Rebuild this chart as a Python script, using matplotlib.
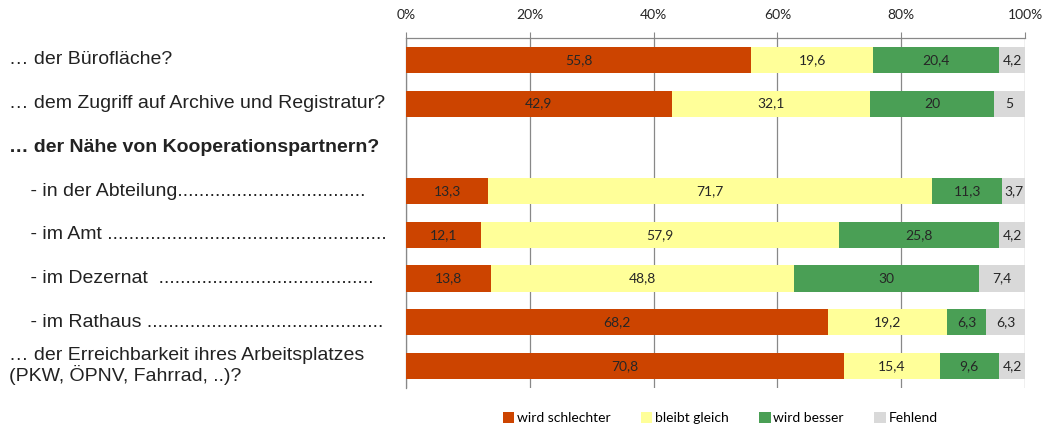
import numpy as np
import matplotlib.pyplot as plt
from matplotlib.patches import Patch
from matplotlib.transforms import blended_transform_factory

# rows of the chart, top to bottom (the header row has no bar)
row_labels = ["… der Bürofläche?",
              "… dem Zugriff auf Archive und Registratur?",
              "… der Nähe von Kooperationspartnern?",
              "    - in der Abteilung" + "." * 35,
              "    - im Amt " + "." * 52,
              "    - im Dezernat  " + "." * 40,
              "    - im Rathaus " + "." * 44,
              "… der Erreichbarkeit ihres Arbeitsplatzes\n(PKW, ÖPNV, Fahrrad, ..)?"]
header_row = 2

series = ["wird schlechter", "bleibt gleich", "wird besser", "Fehlend"]
schlechter = [55.8, 42.9, 13.3, 12.1, 13.8, 68.2, 70.8]
gleich = [19.6, 32.1, 71.7, 57.9, 48.8, 19.2, 15.4]
besser = [20.4, 20.0, 11.3, 25.8, 30.0, 6.3, 9.6]
fehlend = [4.2, 5.0, 3.7, 4.2, 7.4, 6.3, 4.2]

colors = ["#CC4400", "#FFFF99", "#4A9F55", "#D9D9D9"]
ticks = [0, 20, 40, 60, 80, 100]

fig = plt.figure(figsize=(10.47, 4.30), dpi=100)
ax = fig.add_axes([0.3878, 0.0977, 0.5912, 0.8139])

bar_rows = [i for i in range(len(row_labels)) if i != header_row]
y = np.array(bar_rows)
left = np.zeros(len(bar_rows))
for name, vals, col in zip(series, [schlechter, gleich, besser, fehlend], colors):
    vals = np.array(vals)
    ax.barh(y, vals, left=left, height=0.6, color=col, zorder=3)
    for yy, l, v in zip(y, left, vals):
        txt = f"{v:g}".replace(".", ",")
        ax.text(l + v / 2, yy, txt, ha="center", va="center", fontsize=10,
                family="Lato", color="#262626", zorder=4)
    left += vals

ax.set_xlim(0, 100)
ax.set_ylim(len(row_labels) - 0.5, -0.5)
ax.set_xticks(ticks)
ax.set_xticklabels([f"{t}%" for t in ticks], family="Lato", fontsize=10, color="#262626")
ax.xaxis.tick_top()
ax.tick_params(axis="x", length=4, color="#888888", pad=8)
ax.set_yticks([])
ax.grid(axis="x", color="#888888", linewidth=0.9, zorder=0)
for s in ["right", "bottom"]:
    ax.spines[s].set_visible(False)
for s in ["top", "left"]:
    ax.spines[s].set_color("#888888")
    ax.spines[s].set_linewidth(0.9)

trans = blended_transform_factory(fig.transFigure, ax.transData)
for i, lab in enumerate(row_labels):
    ax.text(0.009, i, lab, transform=trans, ha="left", va="center",
            family="Liberation Sans", fontsize=14, color="#222222",
            fontweight="bold" if i == header_row else "normal", linespacing=1.1)

handles = [Patch(facecolor=c, label=n) for n, c in zip(series, colors)]
fig.legend(handles=handles, loc="center", bbox_to_anchor=(0.688, 0.028), ncol=4,
           frameon=False, prop={"family": "Lato", "size": 10},
           handlelength=0.8, handleheight=0.8, handletextpad=0.2, columnspacing=2.2)

fig.savefig("out.png", dpi=100)
